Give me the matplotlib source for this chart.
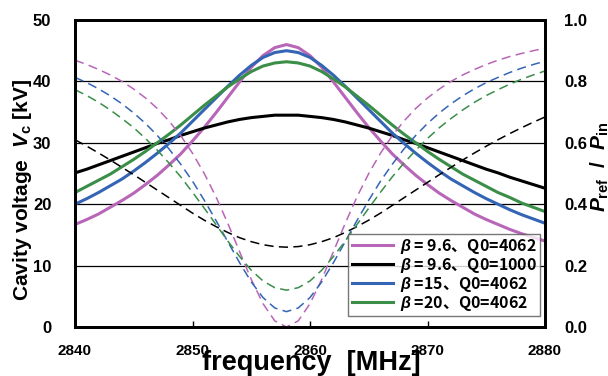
import matplotlib
matplotlib.use("Agg")
import matplotlib.pyplot as plt
import numpy as np

plt.rcParams['font.family'] = ['Liberation Sans', 'Noto Sans CJK JP', 'DejaVu Sans']
plt.rcParams['font.weight'] = 'bold'
plt.rcParams['mathtext.fontset'] = 'custom'
plt.rcParams['mathtext.rm'] = 'Liberation Sans:bold'
plt.rcParams['mathtext.it'] = 'Liberation Sans:italic:bold'
plt.rcParams['mathtext.bf'] = 'Liberation Sans:bold'

# frequency [MHz], 1 MHz steps
freq = list(range(2840, 2881))

# cavity voltage [kV]
vc_96_4062 = [16.7, 17.5, 18.4, 19.5, 20.6, 21.8, 23.2, 24.7, 26.4, 28.2, 30.3, 32.5, 34.9,
              37.4, 39.9, 42.3, 44.2, 45.5, 46.0, 45.5, 44.2, 42.3, 39.9, 37.4, 34.9, 32.5,
              30.3, 28.2, 26.4, 24.7, 23.2, 21.8, 20.6, 19.5, 18.4, 17.5, 16.7, 15.9, 15.2,
              14.6, 14.0]
vc_96_1000 = [25.1, 25.7, 26.4, 27.1, 27.8, 28.5, 29.2, 29.9, 30.5, 31.2, 31.8, 32.4, 32.9,
              33.4, 33.8, 34.1, 34.3, 34.5, 34.5, 34.5, 34.3, 34.1, 33.8, 33.4, 32.9, 32.4,
              31.8, 31.2, 30.5, 29.9, 29.2, 28.5, 27.8, 27.1, 26.4, 25.7, 25.1, 24.4, 23.8,
              23.2, 22.6]
vc_15_4062 = [20.0, 20.9, 21.9, 23.0, 24.1, 25.4, 26.8, 28.3, 29.9, 31.6, 33.5, 35.4, 37.3,
              39.2, 41.0, 42.6, 43.9, 44.7, 45.0, 44.7, 43.9, 42.6, 41.0, 39.2, 37.3, 35.4,
              33.5, 31.6, 29.9, 28.3, 26.8, 25.4, 24.1, 23.0, 21.9, 20.9, 20.0, 19.1, 18.3,
              17.6, 16.9]
vc_20_4062 = [21.9, 22.9, 23.9, 24.9, 26.1, 27.3, 28.6, 30.0, 31.4, 32.9, 34.5, 36.1, 37.6,
              39.1, 40.4, 41.6, 42.5, 43.0, 43.2, 43.0, 42.5, 41.6, 40.4, 39.1, 37.6, 36.1,
              34.5, 32.9, 31.4, 30.0, 28.6, 27.3, 26.1, 24.9, 23.9, 22.9, 21.9, 21.1, 20.2,
              19.5, 18.8]

# reflected / input power
pr_96_4062 = [0.869, 0.855, 0.839, 0.821, 0.800, 0.775, 0.746, 0.712, 0.671, 0.623, 0.566,
              0.500, 0.424, 0.338, 0.246, 0.155, 0.076, 0.020, 0.0, 0.020, 0.076, 0.155,
              0.246, 0.338, 0.424, 0.500, 0.566, 0.623, 0.671, 0.712, 0.746, 0.775, 0.800,
              0.821, 0.839, 0.855, 0.869, 0.881, 0.891, 0.900, 0.908]
pr_96_1000 = [0.610, 0.589, 0.567, 0.544, 0.520, 0.496, 0.471, 0.446, 0.421, 0.396, 0.371,
              0.348, 0.327, 0.308, 0.291, 0.278, 0.268, 0.262, 0.260, 0.262, 0.268, 0.278,
              0.291, 0.308, 0.327, 0.348, 0.371, 0.396, 0.421, 0.446, 0.471, 0.496, 0.520,
              0.544, 0.567, 0.589, 0.610, 0.630, 0.649, 0.667, 0.684]
pr_15_4062 = [0.813, 0.796, 0.776, 0.753, 0.727, 0.697, 0.663, 0.624, 0.580, 0.530, 0.475,
              0.413, 0.347, 0.278, 0.210, 0.147, 0.096, 0.062, 0.050, 0.062, 0.096, 0.147,
              0.210, 0.278, 0.347, 0.413, 0.475, 0.530, 0.580, 0.624, 0.663, 0.697, 0.727,
              0.753, 0.776, 0.796, 0.813, 0.829, 0.843, 0.855, 0.866]
pr_20_4062 = [0.773, 0.754, 0.732, 0.707, 0.679, 0.649, 0.614, 0.576, 0.534, 0.489, 0.439,
              0.387, 0.334, 0.280, 0.230, 0.185, 0.150, 0.128, 0.120, 0.128, 0.150, 0.185,
              0.230, 0.280, 0.334, 0.387, 0.439, 0.489, 0.534, 0.576, 0.614, 0.649, 0.679,
              0.707, 0.732, 0.754, 0.773, 0.791, 0.807, 0.821, 0.834]

labels = [r'$\beta$ = 9.6、Q0=4062', r'$\beta$ = 9.6、Q0=1000',
          r'$\beta$ =15、Q0=4062', r'$\beta$ =20、Q0=4062']
colors = ['#B866B8', '#000000', '#3465B4', '#3A8E48']
vc_all = [vc_96_4062, vc_96_1000, vc_15_4062, vc_20_4062]
pr_all = [pr_96_4062, pr_96_1000, pr_15_4062, pr_20_4062]

fig = plt.figure(figsize=(6.08, 3.76), dpi=100)
ax = fig.add_axes([75/608, 49/376, 470/608, 307/376])
ax2 = ax.twinx()

ax.set_xlim(2840, 2880)
ax.set_ylim(0, 50)
ax2.set_ylim(0, 1)
ax.set_xticks([2840, 2850, 2860, 2870, 2880])
ax.set_yticks([0, 10, 20, 30, 40, 50])
ax2.set_yticks([0, 0.2, 0.4, 0.6, 0.8, 1.0])
ax2.set_yticklabels(['%.1f' % v for v in [0, 0.2, 0.4, 0.6, 0.8, 1.0]])

ax.yaxis.grid(True, color='black', lw=0.9)
ax.set_axisbelow(True)

handles = []
for v, c, lab in zip(vc_all, colors, labels):
    h, = ax.plot(freq, v, color=c, lw=2.2, label=lab)
    handles.append(h)
for p, c in zip(pr_all, colors):
    ax2.plot(freq, p, color=c, lw=1.1, dashes=(6, 3.5))

for a in (ax, ax2):
    for s in a.spines.values():
        s.set_linewidth(2)
ax.tick_params(axis='x', direction='in', length=4, width=1, pad=12, labelsize=11)
ax.tick_params(axis='y', length=0, pad=17, labelsize=12)
ax2.tick_params(axis='y', length=0, pad=14, labelsize=12)

fig.text(311/608, 6/376, 'frequency  [MHz]', ha='center', va='baseline',
         fontsize=19.5, fontweight='bold')
fig.text(23/608, 1 - 190/376, r'Cavity voltage  $V_{\rm c}$ [kV]', rotation=90,
         ha='center', va='center', fontsize=15, fontweight='bold')
fig.text(600/608, 1 - 167/376, r'$P_{\rm ref}$  /  $P_{\rm in}$', rotation=90,
         ha='center', va='center', fontsize=15, fontweight='bold')

# non-math parts of a mathtext label use the text's own font, so give the
# legend a CJK family for the 、
leg = ax2.legend(handles=handles, loc='lower right', bbox_to_anchor=(0.989, 0.036),
                 borderaxespad=0, frameon=True, fancybox=False,
                 prop={'family': 'Noto Sans CJK JP', 'weight': 'bold', 'size': 11.5},
                 edgecolor='#555555', handlelength=2.6, handletextpad=0.4,
                 labelspacing=0.0, borderpad=0.2)
leg.get_frame().set_linewidth(1.0)

fig.savefig('out.png', dpi=100)
